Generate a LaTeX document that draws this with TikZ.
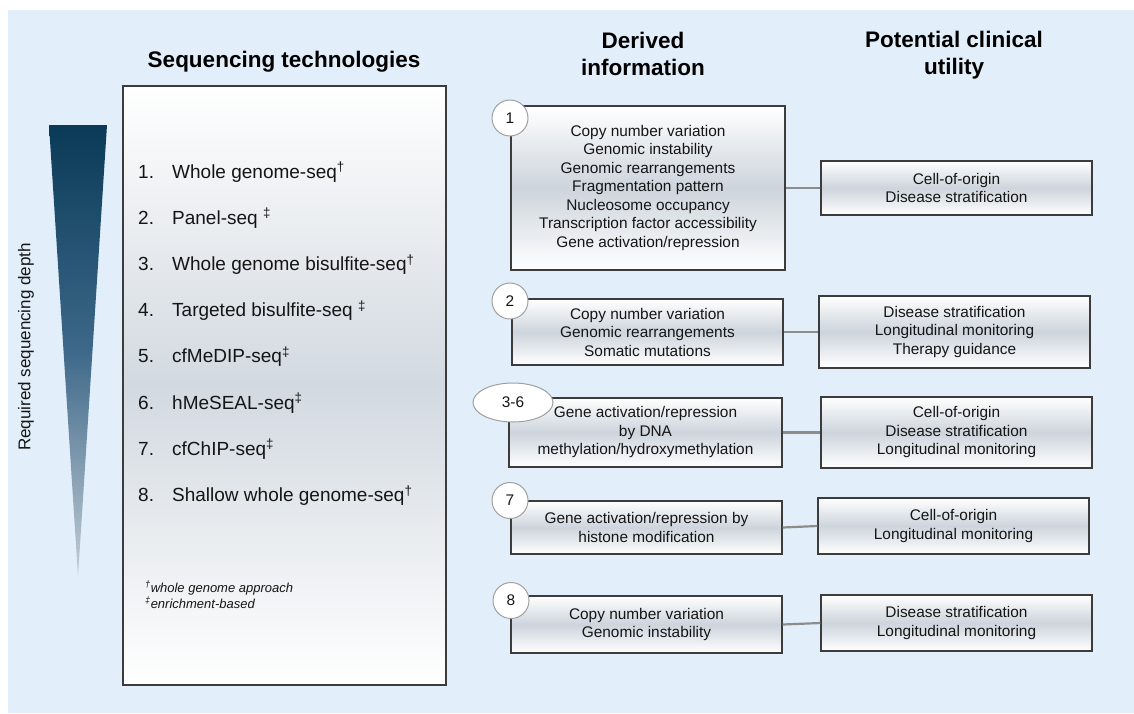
\documentclass[tikz,border=0pt]{standalone}
\usepackage{fontspec}
\setmainfont{Liberation Sans}
\usetikzlibrary{shapes.geometric}
\definecolor{bg}{HTML}{E2EFFA}
\definecolor{boxmid}{HTML}{CDD4DC}
\definecolor{panelmid}{HTML}{D2D9E0}
\definecolor{boxline}{HTML}{3C3C3C}
\definecolor{conn}{HTML}{8C8C8C}
\definecolor{circline}{HTML}{A0A0A0}
\definecolor{triA}{HTML}{0A3A58}
\definecolor{triB}{HTML}{3D6889}
\definecolor{triC}{HTML}{C4CDD6}
\definecolor{txt}{HTML}{151515}
\newcommand\bxfont{\fontsize{15.4}{18.5}\selectfont}
\newcommand\lstfont{\fontsize{19}{23}\selectfont}
\newcommand\hdfont{\fontsize{22.5}{27}\selectfont\bfseries}
\newcommand\ftfont{\fontsize{13}{16}\selectfont\itshape}
\tikzset{
  infobox/.style={draw=boxline, line width=1.2pt, top color=white, bottom color=white,
    middle color=boxmid, align=center, font=\bxfont, text=txt, inner sep=0pt},
  numcirc/.style={circle, draw=circline, fill=white, line width=1pt, minimum size=36pt,
    inner sep=0pt, font=\bxfont, text=txt},
  numoval/.style={ellipse, draw=circline, fill=white, line width=1pt, minimum width=80pt,
    minimum height=39pt, inner sep=0pt, font=\bxfont, text=txt},
  link/.style={draw=conn, line width=2.2pt},
  lstitem/.style={anchor=base west, font=\lstfont, text=txt, inner sep=0pt},
  heading/.style={font=\hdfont, text=black, align=center, inner sep=0pt},
  foot/.style={anchor=base west, font=\ftfont, text=txt, inner sep=0pt}
}
\begin{document}
\begin{tikzpicture}[x=1pt,y=-1pt]
\useasboundingbox (0,0) rectangle (1134,713);
\fill[bg] (8,10) rectangle (1134,713);

% depth wedge
\shade[top color=triA, bottom color=triC, middle color=triB] (49,125) -- (107,125) -- (78,576) -- cycle;
\node[rotate=90, font=\fontsize{17}{20}\selectfont, text=txt, inner sep=0pt] (depth) at (26,347) {Required sequencing depth};

% left panel
\node[heading, anchor=base] (seqtitle) at (284,67) {Sequencing technologies};
\node[draw=boxline, line width=1.3pt, top color=white, bottom color=white, middle color=panelmid,
  minimum width=323pt, minimum height=599pt, inner sep=0pt] (panel) at (284.5,385.5) {};
\node[lstitem] (l1) at (138,178) {\makebox[34pt][l]{1.}Whole genome-seq\textsuperscript{†}};
\node[lstitem] (l2) at (138,224.2) {\makebox[34pt][l]{2.}Panel-seq \textsuperscript{‡}};
\node[lstitem] (l3) at (138,270.4) {\makebox[34pt][l]{3.}Whole genome bisulfite-seq\textsuperscript{†}};
\node[lstitem] (l4) at (138,316.6) {\makebox[34pt][l]{4.}Targeted bisulfite-seq \textsuperscript{‡}};
\node[lstitem] (l5) at (138,362.8) {\makebox[34pt][l]{5.}cfMeDIP-seq\textsuperscript{‡}};
\node[lstitem] (l6) at (138,409) {\makebox[34pt][l]{6.}hMeSEAL-seq\textsuperscript{‡}};
\node[lstitem] (l7) at (138,455.2) {\makebox[34pt][l]{7.}cfChIP-seq\textsuperscript{‡}};
\node[lstitem] (l8) at (138,501.4) {\makebox[34pt][l]{8.}Shallow whole genome-seq\textsuperscript{†}};
\node[foot] (f1) at (145,592) {\textsuperscript{†}whole genome approach};
\node[foot] (f2) at (145,608) {\textsuperscript{‡}enrichment-based};

% headings
\node[heading] (hder) at (643,53.5) {Derived\\information};
\node[heading] (hpot) at (954,55.5) {Potential clinical\\utility};

% derived information boxes
\node[infobox, minimum width=274pt, minimum height=164pt] (d1) at (648,188)
  {Copy number variation\\Genomic instability\\Genomic rearrangements\\Fragmentation pattern\\Nucleosome occupancy\\Transcription factor accessibility\\Gene activation/repression};
\node[infobox, minimum width=271pt, minimum height=66pt] (d2) at (647.5,332)
  {Copy number variation\\Genomic rearrangements\\Somatic mutations};
\node[infobox, minimum width=273pt, minimum height=69pt] (d3) at (645.5,432.5)
  {Gene activation/repression\\by DNA\\methylation/hydroxymethylation};
\node[infobox, minimum width=271pt, minimum height=53pt] (d7) at (646.5,527.5)
  {Gene activation/repression by\\histone modification};
\node[infobox, minimum width=271pt, minimum height=57pt] (d8) at (646.5,624.5)
  {Copy number variation\\Genomic instability};

% clinical utility boxes
\node[infobox, minimum width=271pt, minimum height=54pt] (c1) at (956.5,188)
  {Cell-of-origin\\Disease stratification};
\node[infobox, minimum width=271pt, minimum height=72pt] (c2) at (954.5,332)
  {Disease stratification\\Longitudinal monitoring\\Therapy guidance};
\node[infobox, minimum width=271pt, minimum height=71pt] (c3) at (956.5,432.5)
  {Cell-of-origin\\Disease stratification\\Longitudinal monitoring};
\node[infobox, minimum width=271pt, minimum height=56pt] (c7) at (953.5,526)
  {Cell-of-origin\\Longitudinal monitoring};
\node[infobox, minimum width=271pt, minimum height=56pt] (c8) at (956.5,623)
  {Disease stratification\\Longitudinal monitoring};

% connectors
\draw[link] (d1.east) -- (c1.west);
\draw[link] (d2.east) -- (c2.west);
\draw[link] (d3.east) -- (c3.west);
\draw[link] (d7.east) -- (c7.west);
\draw[link] (d8.east) -- (c8.west);

% number badges
\node[numcirc] (n1) at (510,118) {1};
\node[numcirc] (n2) at (510,301) {2};
\node[numoval] (n36) at (513,402.5) {3-6};
\node[numcirc] (n7) at (510,500.5) {7};
\node[numcirc] (n8) at (511,600.5) {8};
\end{tikzpicture}
\end{document}
